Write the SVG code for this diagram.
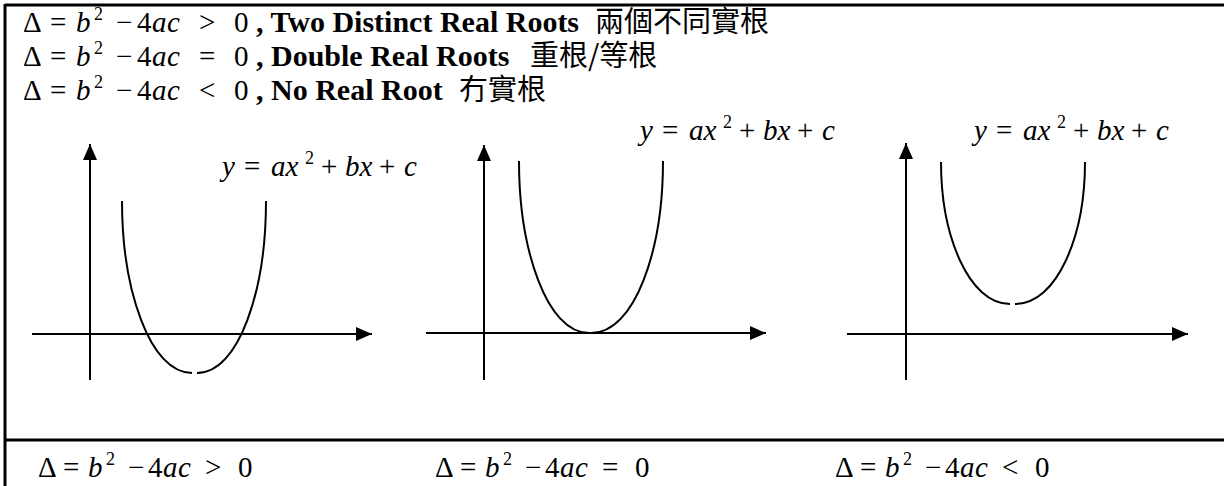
<svg xmlns="http://www.w3.org/2000/svg" width="1224" height="486" viewBox="0 0 1224 486">
<style>
.m{font-family:"Liberation Serif",serif;font-size:29px;fill:#000}
.i{font-style:italic}
.sup{font-size:18px}
.b{font-family:"Liberation Serif",serif;font-size:30px;font-weight:bold}
.cjk{font-family:"Noto Sans CJK TC","Noto Sans CJK SC",sans-serif;font-size:29px}
.ax{stroke:#000;stroke-width:2;fill:none}
.cv{stroke:#000;stroke-width:2;fill:none}
</style>
<defs>
<marker id="ah" markerUnits="userSpaceOnUse" markerWidth="18" markerHeight="14" refX="16" refY="7" orient="auto">
<path d="M0,0 L16,7 L0,14 Z" fill="#000"/>
</marker>
</defs>
<rect width="1224" height="486" fill="#fff"/>
<g id="frame" stroke="#000" stroke-width="3">
<line x1="5" y1="5" x2="1224" y2="5"/>
<line x1="5" y1="4" x2="5" y2="486"/>
<line x1="5" y1="440" x2="1224" y2="440"/>
</g>
<g id="header">
<text class="m" y="32"><tspan x="23">Δ</tspan><tspan x="50">=</tspan><tspan x="76" class="i">b</tspan><tspan x="94" y="20" class="sup">2</tspan><tspan x="116" y="32">−</tspan><tspan x="137">4</tspan><tspan x="152" class="i">a</tspan><tspan x="167" class="i">c</tspan><tspan x="199">&gt;</tspan><tspan x="234">0</tspan><tspan x="256" class="b">, Two Distinct Real Roots</tspan><tspan x="595" class="cjk">兩個不同實根</tspan></text>
<text class="m" y="66"><tspan x="23">Δ</tspan><tspan x="50">=</tspan><tspan x="76" class="i">b</tspan><tspan x="94" y="54" class="sup">2</tspan><tspan x="116" y="66">−</tspan><tspan x="137">4</tspan><tspan x="152" class="i">a</tspan><tspan x="167" class="i">c</tspan><tspan x="199">=</tspan><tspan x="234">0</tspan><tspan x="256" class="b">, Double Real Roots</tspan><tspan x="530" class="cjk">重根/等根</tspan></text>
<text class="m" y="100"><tspan x="23">Δ</tspan><tspan x="50">=</tspan><tspan x="76" class="i">b</tspan><tspan x="94" y="88" class="sup">2</tspan><tspan x="116" y="100">−</tspan><tspan x="137">4</tspan><tspan x="152" class="i">a</tspan><tspan x="167" class="i">c</tspan><tspan x="199">&lt;</tspan><tspan x="234">0</tspan><tspan x="256" class="b">, No Real Root</tspan><tspan x="459" class="cjk">冇實根</tspan></text>
</g>
<g id="connectors">
<line class="ax" x1="90" y1="380" x2="90" y2="144" marker-end="url(#ah)"/>
<line class="ax" x1="32" y1="334" x2="372" y2="334" marker-end="url(#ah)"/>
<line class="ax" x1="484" y1="380" x2="484" y2="145" marker-end="url(#ah)"/>
<line class="ax" x1="426" y1="333" x2="766" y2="333" marker-end="url(#ah)"/>
<line class="ax" x1="906" y1="380" x2="906" y2="143" marker-end="url(#ah)"/>
<line class="ax" x1="847" y1="334" x2="1188" y2="334" marker-end="url(#ah)"/>
</g>
<g id="graph1">
<path class="cv" d="M122,201 C122,290 150,373 192,373"/>
<path class="cv" d="M197,373 C239,373 266,290 266,201"/>
<text class="m" y="176"><tspan x="222" class="i">y</tspan><tspan x="244">=</tspan><tspan x="271" class="i">a</tspan><tspan x="285.5" class="i">x</tspan><tspan x="305" y="164" class="sup">2</tspan><tspan x="321" y="176">+</tspan><tspan x="345" class="i">b</tspan><tspan x="359.5" class="i">x</tspan><tspan x="379">+</tspan><tspan x="404" class="i">c</tspan></text>
</g>
<g id="graph2">
<path class="cv" d="M519,161 C519,250 547,333 589,333"/>
<path class="cv" d="M591,333 C635,333 663,250 663,161"/>
<text class="m" y="140"><tspan x="640" class="i">y</tspan><tspan x="662">=</tspan><tspan x="689" class="i">a</tspan><tspan x="703.5" class="i">x</tspan><tspan x="723" y="128" class="sup">2</tspan><tspan x="739" y="140">+</tspan><tspan x="763" class="i">b</tspan><tspan x="777.5" class="i">x</tspan><tspan x="797">+</tspan><tspan x="822" class="i">c</tspan></text>
</g>
<g id="graph3">
<path class="cv" d="M941,162 C941,236 969,304 1010,304"/>
<path class="cv" d="M1015,304 C1057,304 1085,236 1085,162"/>
<text class="m" y="140"><tspan x="974" class="i">y</tspan><tspan x="996">=</tspan><tspan x="1023" class="i">a</tspan><tspan x="1037.5" class="i">x</tspan><tspan x="1057" y="128" class="sup">2</tspan><tspan x="1073" y="140">+</tspan><tspan x="1097" class="i">b</tspan><tspan x="1111.5" class="i">x</tspan><tspan x="1131">+</tspan><tspan x="1156" class="i">c</tspan></text>
</g>
<g id="footer">
<text class="m" y="477"><tspan x="38">Δ</tspan><tspan x="63">=</tspan><tspan x="88" class="i">b</tspan><tspan x="106" y="465" class="sup">2</tspan><tspan x="128" y="477">−</tspan><tspan x="148">4</tspan><tspan x="163" class="i">a</tspan><tspan x="178" class="i">c</tspan><tspan x="205">&gt;</tspan><tspan x="238">0</tspan></text>
<text class="m" y="477"><tspan x="435">Δ</tspan><tspan x="460">=</tspan><tspan x="485" class="i">b</tspan><tspan x="503" y="465" class="sup">2</tspan><tspan x="525" y="477">−</tspan><tspan x="545">4</tspan><tspan x="560" class="i">a</tspan><tspan x="575" class="i">c</tspan><tspan x="602">=</tspan><tspan x="635">0</tspan></text>
<text class="m" y="477"><tspan x="835">Δ</tspan><tspan x="860">=</tspan><tspan x="885" class="i">b</tspan><tspan x="903" y="465" class="sup">2</tspan><tspan x="925" y="477">−</tspan><tspan x="945">4</tspan><tspan x="960" class="i">a</tspan><tspan x="975" class="i">c</tspan><tspan x="1002">&lt;</tspan><tspan x="1035">0</tspan></text>
</g>
</svg>
